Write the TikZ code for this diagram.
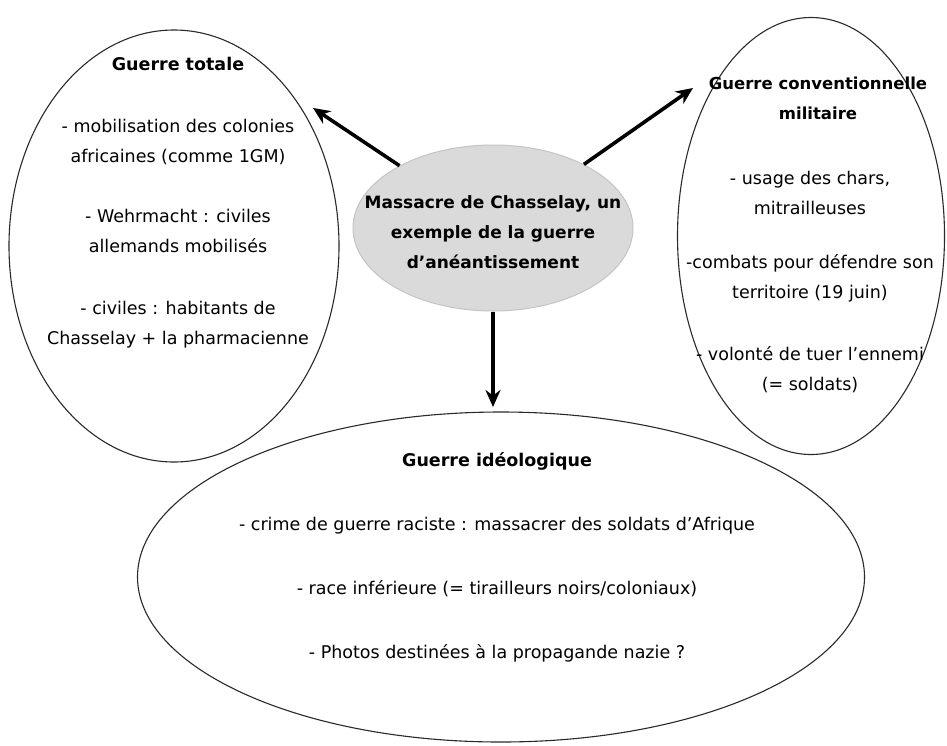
\documentclass[tikz,border=0pt]{standalone}
\usepackage{fontspec}
\setmainfont{DejaVu Sans}
\usetikzlibrary{shapes.geometric,arrows.meta}
\definecolor{hubfill}{HTML}{DADADA}
\definecolor{hubline}{HTML}{C4C4C4}
\definecolor{ringline}{HTML}{2A2A2A}
\tikzset{
  ring/.style={ellipse, draw=ringline, line width=1.1pt, inner sep=0pt},
  hub/.style={ellipse, fill=hubfill, draw=hubline, line width=1pt, inner sep=0pt},
  txt/.style={align=center, font=\fontsize{17.5}{30}\selectfont, text=black, inner sep=0pt},
  hubtxt/.style={align=center, font=\fontsize{17}{30}\selectfont\bfseries, text=black, inner sep=0pt},
  bigarrow/.style={line width=3.6pt, -{Stealth[length=17pt,width=15pt]}, black}
}
\begin{document}
\begin{tikzpicture}[x=1pt,y=-1pt]
\useasboundingbox (0,0) rectangle (947,745);
\fill[white] (0,0) rectangle (947,745);

% outer ellipses
\node[ring, minimum width=330pt, minimum height=432pt] (left) at (174,246) {};
\node[ring, minimum width=267pt, minimum height=437pt] (right) at (811,236) {};
\node[ring, minimum width=727pt, minimum height=330pt] (bottom) at (501,577) {};

% central ellipse
\node[hub, minimum width=280pt, minimum height=166pt] (c) at (493,228) {};
\node[hubtxt] (ctext) at (493,232) {Massacre de Chasselay, un\\exemple de la guerre\\d’anéantissement};

% texts
\node[txt] (ltext) at (178,203) {\textbf{Guerre totale}\\[32pt]
- mobilisation des colonies\\africaines (comme 1GM)\\[30pt]
- Wehrmacht : civiles\\allemands mobilisés\\[32pt]
- civiles : habitants de\\Chasselay + la pharmacienne};

\node[txt, font=\fontsize{16.5}{30}\selectfont\bfseries] (rtitle) at (818,98) {Guerre conventionnelle\\militaire};

\node[txt] (rtext) at (810,282) {- usage des chars,\\mitrailleuses\\[24pt]
-combats pour défendre son\\territoire (19 juin)\\[32pt]
- volonté de tuer l’ennemi\\(= soldats)};

\node[txt] (btext) at (497,557) {\textbf{Guerre idéologique}\\[34pt]
- crime de guerre raciste : massacrer des soldats d’Afrique\\[34pt]
- race inférieure (= tirailleurs noirs/coloniaux)\\[34pt]
- Photos destinées à la propagande nazie ?};

% arrows
\coordinate (tL) at (313,108);
\coordinate (tR) at (693,88);
\coordinate (tD) at (493,407);
\draw[bigarrow] (c) -- (tL);
\draw[bigarrow] (c) -- (tR);
\draw[bigarrow] (c) -- (tD);
\end{tikzpicture}
\end{document}
